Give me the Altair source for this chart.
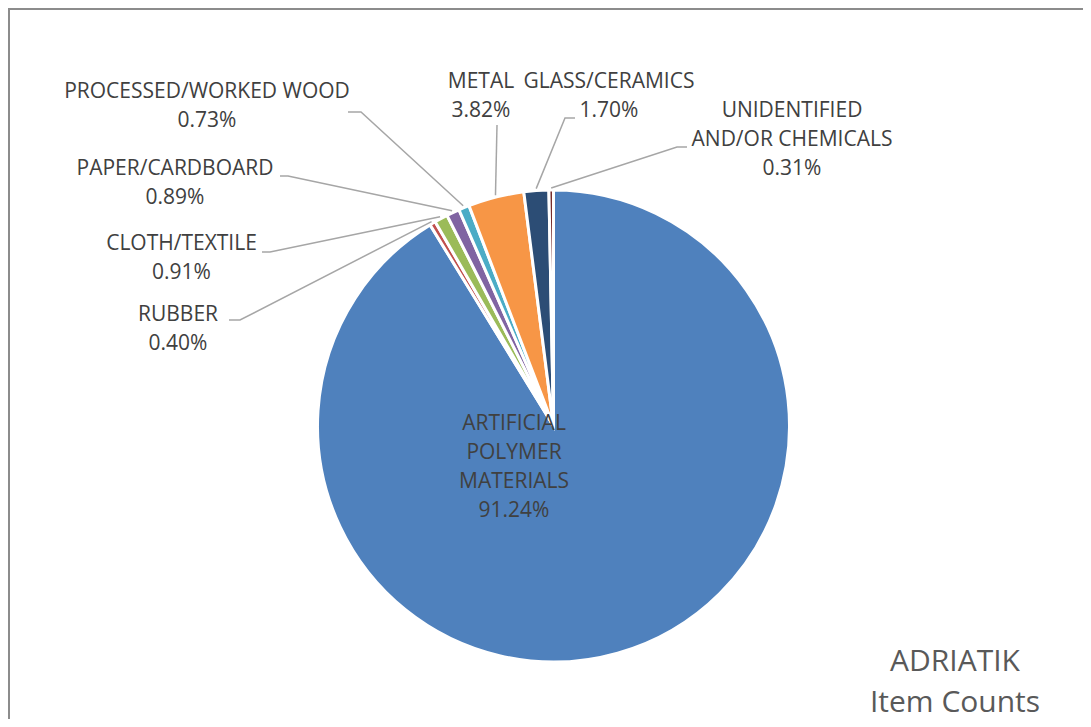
import altair as alt
import pandas as pd
import math

# ---- data ----
categories = [
    "ARTIFICIAL POLYMER MATERIALS",
    "RUBBER",
    "CLOTH/TEXTILE",
    "PAPER/CARDBOARD",
    "PROCESSED/WORKED WOOD",
    "METAL",
    "GLASS/CERAMICS",
    "UNIDENTIFIED AND/OR CHEMICALS",
]
percent = [91.24, 0.40, 0.91, 0.89, 0.73, 3.82, 1.70, 0.31]
label_text = [
    "ARTIFICIAL\nPOLYMER\nMATERIALS",
    "RUBBER",
    "CLOTH/TEXTILE",
    "PAPER/CARDBOARD",
    "PROCESSED/WORKED WOOD",
    "METAL",
    "GLASS/CERAMICS",
    "UNIDENTIFIED\nAND/OR CHEMICALS",
]
colors = ["#4F81BD", "#C0504D", "#9BBB59", "#8064A2", "#4BACC6", "#F79646", "#2C4D75", "#772C2A"]

# ---- layout (chart pixel coordinates) ----
W, H = 1075, 711
CX, CY, R = 545.5, 418, 236
FONT = "Open Sans"
TEXT_COLOR = "#404040"
LINE_COLOR = "#A6A6A6"

# label first-line position, leader elbow, leader end (None = no leader)
layout = {
    "ARTIFICIAL POLYMER MATERIALS": ((506, 416), None, None),
    "RUBBER": ((170, 307), (232, 312), (221, 312)),
    "CLOTH/TEXTILE": ((173.5, 236), (262, 244), (254, 244)),
    "PAPER/CARDBOARD": ((167, 161), (280, 168), (272, 168)),
    "PROCESSED/WORKED WOOD": ((199, 84), (353, 104), (340, 104)),
    "METAL": ((473, 74), (489, 117), (489, 117)),
    "GLASS/CERAMICS": ((601, 74), (557, 110), (567, 110)),
    "UNIDENTIFIED AND/OR CHEMICALS": ((784, 103), (669, 139), (679, 139)),
}

pie_df = pd.DataFrame({"category": categories, "value": percent, "idx": list(range(len(categories)))})

lab_rows = []
line_rows = []
cum = 0.0
total = sum(percent)
for cat, v, txt in zip(categories, percent, label_text):
    mid = (cum + v / 2) / total * 2 * math.pi
    cum += v
    (lx, ly), elbow, end = layout[cat]
    lab_rows.append({"category": cat, "x": lx, "y": ly, "text": f"{txt}\n{v:.2f}%"})
    if elbow is not None:
        ax = CX + (R + 2) * math.sin(mid)
        ay = CY - (R + 2) * math.cos(mid)
        pts = [(ax, ay), elbow, end]
        for k, (px, py) in enumerate(pts):
            line_rows.append({"category": cat, "k": k, "x": px, "y": py})

lab_df = pd.DataFrame(lab_rows)
line_df = pd.DataFrame(line_rows)
title_df = pd.DataFrame({"x": [947], "y": [654], "text": ["ADRIATIK\nItem Counts"]})

xs = alt.Scale(domain=[0, W], nice=False, zero=False)
ys = alt.Scale(domain=[0, H], nice=False, zero=False, reverse=True)

pie = alt.Chart(pie_df).mark_arc(outerRadius=R, stroke="white", strokeWidth=3).encode(
    theta=alt.Theta("value:Q", stack=True),
    order=alt.Order("idx:Q"),
    color=alt.Color("category:N", scale=alt.Scale(domain=categories, range=colors), legend=None),
    x=alt.value(CX),
    y=alt.value(CY),
)

leaders = alt.Chart(line_df).mark_line(color=LINE_COLOR, strokeWidth=1.5).encode(
    x=alt.X("x:Q", scale=xs, axis=None),
    y=alt.Y("y:Q", scale=ys, axis=None),
    detail="category:N",
    order="k:Q",
)

labels = alt.Chart(lab_df).mark_text(
    font=FONT, fontSize=21, color=TEXT_COLOR, align="center", baseline="middle",
    lineBreak="\n", lineHeight=29,
).encode(
    x=alt.X("x:Q", scale=xs, axis=None),
    y=alt.Y("y:Q", scale=ys, axis=None),
    text="text:N",
)

title = alt.Chart(title_df).mark_text(
    font=FONT, fontSize=30, color="#595959", align="center", baseline="middle",
    lineBreak="\n", lineHeight=41,
).encode(
    x=alt.X("x:Q", scale=xs, axis=None),
    y=alt.Y("y:Q", scale=ys, axis=None),
    text="text:N",
)

border_top = alt.Chart(pd.DataFrame({"a": [0]})).mark_rule(color="#8C8C8C", strokeWidth=2).encode(
    x=alt.value(0), x2=alt.value(W), y=alt.value(1)
)
border_left = alt.Chart(pd.DataFrame({"a": [0]})).mark_rule(color="#8C8C8C", strokeWidth=2).encode(
    x=alt.value(1), y=alt.value(0), y2=alt.value(H)
)

chart = alt.layer(border_top, border_left, pie, leaders, labels, title).properties(
    width=W, height=H, padding=0,
    autosize=alt.AutoSizeParams(type="none"),
    background="white",
).configure_view(stroke=None)

chart.save("out.html", embed_options={"renderer": "svg", "actions": False})
